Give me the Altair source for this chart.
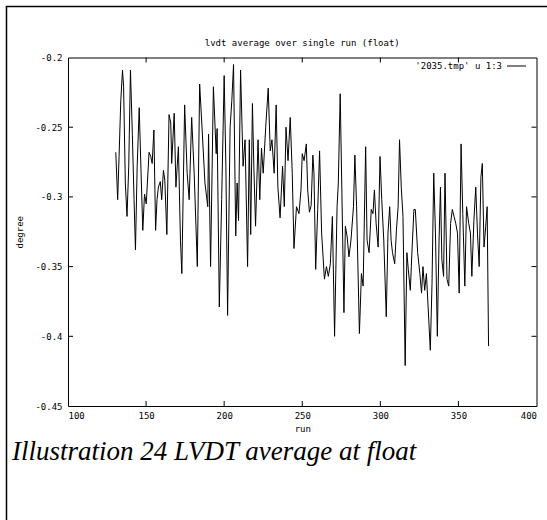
import altair as alt
import pandas as pd

runs = [130.6,131.8,132.7,133.8,134.9,135.6,136.7,137.8,138.9,140.0,
        141.2,142.3,143.2,144.3,145.6,146.8,147.9,149.0,150.1,151.9,
        153.0,153.9,155.0,156.1,157.0,157.9,159.1,160.0,161.1,162.0,
        163.3,164.7,165.8,166.4,168.0,169.1,170.7,172.0,172.9,174.7,
        176.3,177.6,179.2,180.8,182.8,184.3,185.9,187.7,189.5,190.0,
        191.3,193.1,194.9,195.5,196.9,198.4,200.0,201.1,202.2,203.8,
        204.9,206.0,207.4,208.3,209.2,210.5,212.1,213.4,215.0,216.1,
        217.0,218.1,219.0,220.1,221.7,222.8,223.9,225.0,226.6,228.2,
        229.5,230.6,232.0,233.3,234.4,235.8,237.4,238.5,239.6,240.9,
        242.3,243.6,244.7,246.3,247.9,249.2,250.0,251.2,252.6,253.5,
        254.6,255.7,256.8,257.5,258.6,259.9,261.1,262.4,264.2,265.5,
        266.7,268.0,269.3,270.7,272.3,273.1,274.3,275.4,276.7,277.6,
        278.7,279.9,281.2,282.8,283.7,284.8,286.6,287.9,289.0,290.6,
        291.5,292.8,294.2,295.3,296.2,297.3,298.6,299.8,300.9,302.2,
        303.8,304.9,306.0,306.9,307.8,309.2,310.3,311.4,312.3,313.4,
        314.5,315.9,317.0,317.9,319.2,320.3,321.5,322.4,323.9,325.3,
        326.4,327.3,328.4,329.5,330.6,332.0,333.1,334.2,335.3,336.5,
        337.6,338.5,339.4,340.5,341.4,342.7,343.8,345.0,346.1,347.2,
        348.3,349.4,350.5,351.7,352.8,354.1,355.2,356.6,357.7,358.6,
        359.9,361.1,362.2,363.3,364.4,365.3,366.4,367.5,368.4,369.3]

values = [-0.268,-0.302,-0.271,-0.231,-0.209,-0.221,-0.290,-0.314,-0.278,-0.209,
          -0.255,-0.302,-0.338,-0.278,-0.236,-0.283,-0.324,-0.298,-0.305,-0.268,
          -0.271,-0.276,-0.252,-0.324,-0.302,-0.293,-0.289,-0.302,-0.281,-0.288,
          -0.327,-0.241,-0.247,-0.276,-0.240,-0.293,-0.264,-0.331,-0.355,-0.234,
          -0.283,-0.302,-0.243,-0.283,-0.350,-0.219,-0.252,-0.290,-0.307,-0.255,
          -0.350,-0.221,-0.269,-0.251,-0.379,-0.302,-0.213,-0.278,-0.385,-0.250,
          -0.231,-0.205,-0.328,-0.290,-0.317,-0.209,-0.278,-0.259,-0.350,-0.259,
          -0.327,-0.233,-0.278,-0.321,-0.259,-0.302,-0.265,-0.283,-0.250,-0.222,
          -0.267,-0.259,-0.283,-0.234,-0.293,-0.315,-0.278,-0.307,-0.250,-0.274,
          -0.243,-0.283,-0.337,-0.307,-0.312,-0.295,-0.269,-0.274,-0.262,-0.295,
          -0.311,-0.306,-0.270,-0.283,-0.352,-0.309,-0.267,-0.326,-0.359,-0.350,
          -0.357,-0.348,-0.314,-0.400,-0.307,-0.290,-0.226,-0.298,-0.383,-0.321,
          -0.328,-0.343,-0.331,-0.307,-0.270,-0.307,-0.398,-0.355,-0.364,-0.264,
          -0.331,-0.340,-0.309,-0.312,-0.295,-0.319,-0.336,-0.271,-0.302,-0.331,
          -0.386,-0.326,-0.307,-0.331,-0.340,-0.348,-0.324,-0.307,-0.259,-0.293,
          -0.314,-0.421,-0.340,-0.352,-0.367,-0.338,-0.309,-0.309,-0.340,-0.355,
          -0.369,-0.350,-0.367,-0.355,-0.379,-0.410,-0.362,-0.283,-0.326,-0.400,
          -0.331,-0.293,-0.345,-0.357,-0.283,-0.359,-0.364,-0.319,-0.309,-0.314,
          -0.319,-0.326,-0.369,-0.262,-0.312,-0.364,-0.307,-0.319,-0.326,-0.357,
          -0.317,-0.293,-0.326,-0.350,-0.286,-0.276,-0.336,-0.321,-0.307,-0.407]

x_ticks = [100, 150, 200, 250, 300, 350, 400]
y_ticks = [-0.45, -0.4, -0.35, -0.3, -0.25, -0.2]
inner_x_ticks = [150, 200, 250, 300, 350]
inner_y_ticks = [-0.4, -0.35, -0.3, -0.25]

title_text = "lvdt average over single run (float)"
legend_text = "'2035.tmp' u 1:3"
caption_text = "Illustration 24 LVDT average at float"
x_title = "run"
y_title = "degree"

W, H = 468.5, 348.5
PL, PT = 68, 57.5
MONO = "DejaVu Sans Mono"

n = min(len(runs), len(values))
df = pd.DataFrame({"run": runs[:n], "value": values[:n]})

xs = alt.Scale(domain=[100, 400], nice=False, zero=False)
ys = alt.Scale(domain=[-0.45, -0.2], nice=False, zero=False)

line = alt.Chart(df).mark_line(color="black", strokeWidth=1).encode(
    x=alt.X("run:Q", scale=xs, title=x_title,
            axis=alt.Axis(values=x_ticks, ticks=False, domain=False, grid=False,
                          labelFont=MONO, labelFontSize=9, labelColor="black",
                          labelPadding=5, labelExpr="datum.value + ''",
                          titleFont=MONO, titleFontSize=9, titleFontWeight="normal",
                          titleColor="black", titlePadding=4)),
    y=alt.Y("value:Q", scale=ys, title=y_title,
            axis=alt.Axis(values=y_ticks, ticks=False, domain=False, grid=False,
                          labelFont=MONO, labelFontSize=9, labelColor="black",
                          labelPadding=6, labelExpr="datum.value + ''",
                          titleFont=MONO, titleFontSize=9, titleFontWeight="normal",
                          titleColor="black", titlePadding=10)),
)

xt = pd.DataFrame({"t": inner_x_ticks})
yt = pd.DataFrame({"t": inner_y_ticks})

bottom_ticks = alt.Chart(xt).mark_rule(color="black", strokeWidth=1).encode(
    x=alt.X("t:Q", scale=xs), y=alt.value(H), y2=alt.value(H - 5))
top_ticks = alt.Chart(xt).mark_rule(color="black", strokeWidth=1).encode(
    x=alt.X("t:Q", scale=xs), y=alt.value(0), y2=alt.value(5))
left_ticks = alt.Chart(yt).mark_rule(color="black", strokeWidth=1).encode(
    y=alt.Y("t:Q", scale=ys), x=alt.value(0), x2=alt.value(5))
right_ticks = alt.Chart(yt).mark_rule(color="black", strokeWidth=1).encode(
    y=alt.Y("t:Q", scale=ys), x=alt.value(W), x2=alt.value(W - 5))

one = pd.DataFrame({"k": [0]})

title_mark = alt.Chart(one).mark_text(
    font=MONO, fontSize=9, color="black", align="center", baseline="middle"
).encode(x=alt.value(W / 2), y=alt.value(43 - PT), text=alt.value(title_text))

legend_label = alt.Chart(one).mark_text(
    font=MONO, fontSize=9, color="black", align="right", baseline="middle"
).encode(x=alt.value(502 - PL), y=alt.value(66 - PT), text=alt.value(legend_text))

legend_line = alt.Chart(one).mark_rule(color="black", strokeWidth=1).encode(
    x=alt.value(507 - PL), x2=alt.value(526 - PL), y=alt.value(66 - PT))

caption = alt.Chart(one).mark_text(
    font="Liberation Serif", fontSize=27, fontStyle="italic", color="black",
    align="left", baseline="alphabetic"
).encode(x=alt.value(12 - PL), y=alt.value(460 - PT), text=alt.value(caption_text))

frame_left = alt.Chart(one).mark_rule(color="black", strokeWidth=1.5).encode(
    x=alt.value(6.5 - PL), y=alt.value(6.5 - PT), y2=alt.value(520 - PT))
frame_top = alt.Chart(one).mark_rule(color="black", strokeWidth=1.5).encode(
    x=alt.value(5.75 - PL), x2=alt.value(547 - PL), y=alt.value(6.5 - PT))

chart = alt.layer(
    line, bottom_ticks, top_ticks, left_ticks, right_ticks,
    title_mark, legend_label, legend_line, caption, frame_left, frame_top
).properties(
    width=W, height=H,
    autosize=alt.AutoSizeParams(type="none"),
    padding={"left": PL, "top": PT, "right": 547 - PL - W, "bottom": 520 - PT - H},
    background="white",
).configure_view(stroke="black", strokeWidth=1)

chart.save("out.html", embed_options={"renderer": "svg", "actions": False})
